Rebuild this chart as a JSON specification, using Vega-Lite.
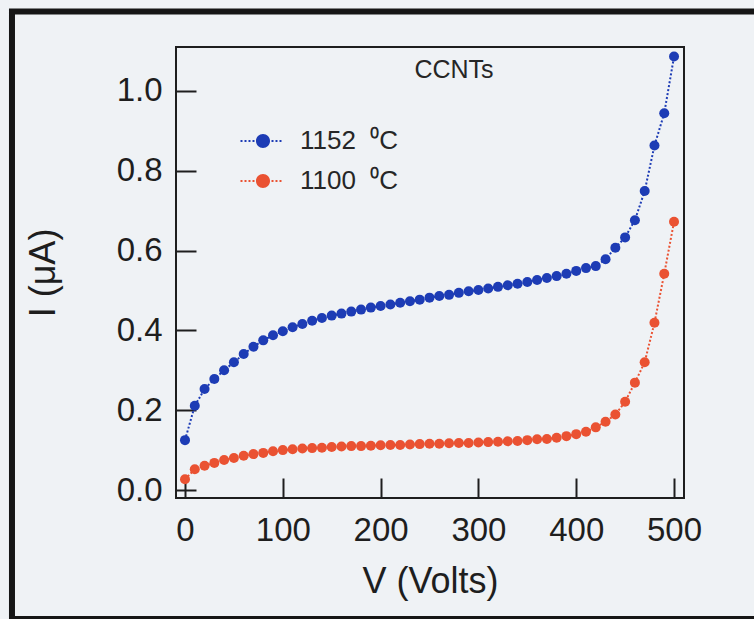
{
  "$schema": "https://vega.github.io/schema/vega-lite/v6.json",
  "width": 508,
  "height": 451,
  "autosize": {"type": "none"},
  "padding": {"left": 176, "top": 47, "right": 70, "bottom": 121},
  "background": "#eff2f5",
  "datasets": {
    "iv": [
      {"V": 0, "I": 0.125, "T": "1152\u00a0\u00a0⁰C"}, {"V": 10, "I": 0.211, "T": "1152\u00a0\u00a0⁰C"}, {"V": 20, "I": 0.253, "T": "1152\u00a0\u00a0⁰C"},
      {"V": 30, "I": 0.278, "T": "1152\u00a0\u00a0⁰C"}, {"V": 40, "I": 0.300, "T": "1152\u00a0\u00a0⁰C"}, {"V": 50, "I": 0.320, "T": "1152\u00a0\u00a0⁰C"},
      {"V": 60, "I": 0.341, "T": "1152\u00a0\u00a0⁰C"}, {"V": 70, "I": 0.359, "T": "1152\u00a0\u00a0⁰C"}, {"V": 80, "I": 0.375, "T": "1152\u00a0\u00a0⁰C"},
      {"V": 90, "I": 0.388, "T": "1152\u00a0\u00a0⁰C"}, {"V": 100, "I": 0.398, "T": "1152\u00a0\u00a0⁰C"}, {"V": 110, "I": 0.408, "T": "1152\u00a0\u00a0⁰C"},
      {"V": 120, "I": 0.416, "T": "1152\u00a0\u00a0⁰C"}, {"V": 130, "I": 0.424, "T": "1152\u00a0\u00a0⁰C"}, {"V": 140, "I": 0.431, "T": "1152\u00a0\u00a0⁰C"},
      {"V": 150, "I": 0.437, "T": "1152\u00a0\u00a0⁰C"}, {"V": 160, "I": 0.442, "T": "1152\u00a0\u00a0⁰C"}, {"V": 170, "I": 0.447, "T": "1152\u00a0\u00a0⁰C"},
      {"V": 180, "I": 0.452, "T": "1152\u00a0\u00a0⁰C"}, {"V": 190, "I": 0.457, "T": "1152\u00a0\u00a0⁰C"}, {"V": 200, "I": 0.461, "T": "1152\u00a0\u00a0⁰C"},
      {"V": 210, "I": 0.465, "T": "1152\u00a0\u00a0⁰C"}, {"V": 220, "I": 0.469, "T": "1152\u00a0\u00a0⁰C"}, {"V": 230, "I": 0.473, "T": "1152\u00a0\u00a0⁰C"},
      {"V": 240, "I": 0.477, "T": "1152\u00a0\u00a0⁰C"}, {"V": 250, "I": 0.482, "T": "1152\u00a0\u00a0⁰C"}, {"V": 260, "I": 0.486, "T": "1152\u00a0\u00a0⁰C"},
      {"V": 270, "I": 0.489, "T": "1152\u00a0\u00a0⁰C"}, {"V": 280, "I": 0.494, "T": "1152\u00a0\u00a0⁰C"}, {"V": 290, "I": 0.498, "T": "1152\u00a0\u00a0⁰C"},
      {"V": 300, "I": 0.501, "T": "1152\u00a0\u00a0⁰C"}, {"V": 310, "I": 0.505, "T": "1152\u00a0\u00a0⁰C"}, {"V": 320, "I": 0.509, "T": "1152\u00a0\u00a0⁰C"},
      {"V": 330, "I": 0.513, "T": "1152\u00a0\u00a0⁰C"}, {"V": 340, "I": 0.517, "T": "1152\u00a0\u00a0⁰C"}, {"V": 350, "I": 0.521, "T": "1152\u00a0\u00a0⁰C"},
      {"V": 360, "I": 0.526, "T": "1152\u00a0\u00a0⁰C"}, {"V": 370, "I": 0.531, "T": "1152\u00a0\u00a0⁰C"}, {"V": 380, "I": 0.536, "T": "1152\u00a0\u00a0⁰C"},
      {"V": 390, "I": 0.542, "T": "1152\u00a0\u00a0⁰C"}, {"V": 400, "I": 0.549, "T": "1152\u00a0\u00a0⁰C"}, {"V": 410, "I": 0.556, "T": "1152\u00a0\u00a0⁰C"},
      {"V": 420, "I": 0.561, "T": "1152\u00a0\u00a0⁰C"}, {"V": 430, "I": 0.578, "T": "1152\u00a0\u00a0⁰C"}, {"V": 440, "I": 0.607, "T": "1152\u00a0\u00a0⁰C"},
      {"V": 450, "I": 0.633, "T": "1152\u00a0\u00a0⁰C"}, {"V": 460, "I": 0.676, "T": "1152\u00a0\u00a0⁰C"}, {"V": 470, "I": 0.749, "T": "1152\u00a0\u00a0⁰C"},
      {"V": 480, "I": 0.863, "T": "1152\u00a0\u00a0⁰C"}, {"V": 490, "I": 0.944, "T": "1152\u00a0\u00a0⁰C"}, {"V": 500, "I": 1.086, "T": "1152\u00a0\u00a0⁰C"},
      {"V": 0, "I": 0.027, "T": "1100\u00a0\u00a0⁰C"}, {"V": 10, "I": 0.052, "T": "1100\u00a0\u00a0⁰C"}, {"V": 20, "I": 0.061, "T": "1100\u00a0\u00a0⁰C"},
      {"V": 30, "I": 0.068, "T": "1100\u00a0\u00a0⁰C"}, {"V": 40, "I": 0.075, "T": "1100\u00a0\u00a0⁰C"}, {"V": 50, "I": 0.080, "T": "1100\u00a0\u00a0⁰C"},
      {"V": 60, "I": 0.086, "T": "1100\u00a0\u00a0⁰C"}, {"V": 70, "I": 0.090, "T": "1100\u00a0\u00a0⁰C"}, {"V": 80, "I": 0.093, "T": "1100\u00a0\u00a0⁰C"},
      {"V": 90, "I": 0.097, "T": "1100\u00a0\u00a0⁰C"}, {"V": 100, "I": 0.100, "T": "1100\u00a0\u00a0⁰C"}, {"V": 110, "I": 0.102, "T": "1100\u00a0\u00a0⁰C"},
      {"V": 120, "I": 0.104, "T": "1100\u00a0\u00a0⁰C"}, {"V": 130, "I": 0.105, "T": "1100\u00a0\u00a0⁰C"}, {"V": 140, "I": 0.106, "T": "1100\u00a0\u00a0⁰C"},
      {"V": 150, "I": 0.108, "T": "1100\u00a0\u00a0⁰C"}, {"V": 160, "I": 0.109, "T": "1100\u00a0\u00a0⁰C"}, {"V": 170, "I": 0.110, "T": "1100\u00a0\u00a0⁰C"},
      {"V": 180, "I": 0.110, "T": "1100\u00a0\u00a0⁰C"}, {"V": 190, "I": 0.111, "T": "1100\u00a0\u00a0⁰C"}, {"V": 200, "I": 0.112, "T": "1100\u00a0\u00a0⁰C"},
      {"V": 210, "I": 0.113, "T": "1100\u00a0\u00a0⁰C"}, {"V": 220, "I": 0.113, "T": "1100\u00a0\u00a0⁰C"}, {"V": 230, "I": 0.114, "T": "1100\u00a0\u00a0⁰C"},
      {"V": 240, "I": 0.115, "T": "1100\u00a0\u00a0⁰C"}, {"V": 250, "I": 0.116, "T": "1100\u00a0\u00a0⁰C"}, {"V": 260, "I": 0.116, "T": "1100\u00a0\u00a0⁰C"},
      {"V": 270, "I": 0.117, "T": "1100\u00a0\u00a0⁰C"}, {"V": 280, "I": 0.118, "T": "1100\u00a0\u00a0⁰C"}, {"V": 290, "I": 0.118, "T": "1100\u00a0\u00a0⁰C"},
      {"V": 300, "I": 0.119, "T": "1100\u00a0\u00a0⁰C"}, {"V": 310, "I": 0.120, "T": "1100\u00a0\u00a0⁰C"}, {"V": 320, "I": 0.121, "T": "1100\u00a0\u00a0⁰C"},
      {"V": 330, "I": 0.122, "T": "1100\u00a0\u00a0⁰C"}, {"V": 340, "I": 0.123, "T": "1100\u00a0\u00a0⁰C"}, {"V": 350, "I": 0.125, "T": "1100\u00a0\u00a0⁰C"},
      {"V": 360, "I": 0.127, "T": "1100\u00a0\u00a0⁰C"}, {"V": 370, "I": 0.128, "T": "1100\u00a0\u00a0⁰C"}, {"V": 380, "I": 0.131, "T": "1100\u00a0\u00a0⁰C"},
      {"V": 390, "I": 0.135, "T": "1100\u00a0\u00a0⁰C"}, {"V": 400, "I": 0.140, "T": "1100\u00a0\u00a0⁰C"}, {"V": 410, "I": 0.146, "T": "1100\u00a0\u00a0⁰C"},
      {"V": 420, "I": 0.157, "T": "1100\u00a0\u00a0⁰C"}, {"V": 430, "I": 0.171, "T": "1100\u00a0\u00a0⁰C"}, {"V": 440, "I": 0.189, "T": "1100\u00a0\u00a0⁰C"},
      {"V": 450, "I": 0.221, "T": "1100\u00a0\u00a0⁰C"}, {"V": 460, "I": 0.269, "T": "1100\u00a0\u00a0⁰C"}, {"V": 470, "I": 0.320, "T": "1100\u00a0\u00a0⁰C"},
      {"V": 480, "I": 0.419, "T": "1100\u00a0\u00a0⁰C"}, {"V": 490, "I": 0.542, "T": "1100\u00a0\u00a0⁰C"}, {"V": 500, "I": 0.672, "T": "1100\u00a0\u00a0⁰C"}
    ]
  },
  "layer": [
    {
      "description": "outer frame around the figure",
      "data": {"values": [{}]},
      "mark": {"type": "rect", "filled": false, "stroke": "#161616", "strokeWidth": 6},
      "encoding": {
        "x": {"datum": -176.9, "type": "quantitative"},
        "x2": {"datum": 618.6},
        "y": {"datum": 1.199, "type": "quantitative"},
        "y2": {"datum": -0.323}
      }
    },
    {
      "description": "sample label",
      "data": {"values": [{}]},
      "mark": {"type": "text", "text": "CCNTs", "fontSize": 25, "font": "Liberation Sans", "color": "#262626", "baseline": "alphabetic", "align": "center"},
      "encoding": {
        "x": {"datum": 275, "type": "quantitative"},
        "y": {"datum": 1.032, "type": "quantitative"}
      }
    },
    {
      "data": {"name": "iv"},
      "mark": {"type": "line", "strokeDash": [2, 2], "strokeWidth": 2},
      "encoding": {
        "x": {"field": "V", "type": "quantitative"},
        "y": {"field": "I", "type": "quantitative"},
        "color": {"field": "T", "type": "nominal"},
        "detail": {"field": "T"}
      }
    },
    {
      "data": {"name": "iv"},
      "mark": {"type": "point", "shape": "circle", "filled": true, "size": 100, "opacity": 1},
      "encoding": {
        "x": {"field": "V", "type": "quantitative"},
        "y": {"field": "I", "type": "quantitative"},
        "color": {"field": "T", "type": "nominal"}
      }
    }
  ],
  "resolve": {"scale": {"x": "shared", "y": "shared"}},
  "encoding": {
    "x": {
      "type": "quantitative",
      "scale": {"domain": [-9.2, 510.2], "nice": false, "zero": false},
      "axis": {
        "title": "V (Volts)",
        "values": [0, 100, 200, 300, 400, 500],
        "format": "d",
        "labelPadding": 36,
        "titlePadding": 17
      }
    },
    "y": {
      "type": "quantitative",
      "scale": {"domain": [-0.02, 1.11], "nice": false, "zero": false},
      "axis": {
        "title": "I (μA)",
        "values": [0, 0.2, 0.4, 0.6, 0.8, 1.0],
        "format": ".1f",
        "labelPadding": 34,
        "titlePadding": 54
      }
    },
    "color": {
      "type": "nominal",
      "scale": {"domain": ["1152\u00a0\u00a0⁰C", "1100\u00a0\u00a0⁰C"], "range": ["#1d3cb5", "#ea5232"]},
      "legend": {
        "orient": "none",
        "legendX": 72,
        "legendY": 79,
        "title": null,
        "padding": 0,
        "symbolType": "M-1.5,-0.067h0.133v0.134h-0.133ZM-1.233,-0.067h0.133v0.134h-0.133ZM-0.967,-0.067h0.133v0.134h-0.133ZM-0.7,-0.067h0.133v0.134h-0.133ZM0.567,-0.067h0.133v0.134h-0.133ZM0.833,-0.067h0.133v0.134h-0.133ZM1.1,-0.067h0.133v0.134h-0.133ZM-0.467,0A0.467,0.467 0 1,0 0.467,0A0.467,0.467 0 1,0 -0.467,0Z",
        "symbolSize": 900,
        "symbolStrokeWidth": 0,
        "symbolOpacity": 1,
        "rowPadding": 12,
        "labelOffset": 22,
        "labelFontSize": 26,
        "labelFont": "Liberation Sans",
        "labelColor": "#262626",
        "encode": {
          "symbols": {"update": {"fill": {"scale": "color", "field": "value"}, "strokeWidth": {"value": 0}, "opacity": {"value": 1}}}
        }
      }
    }
  },
  "config": {
    "font": "Liberation Sans",
    "view": {"stroke": "#1e1e1e", "strokeWidth": 2},
    "axis": {
      "domain": false,
      "grid": false,
      "ticks": true,
      "tickSize": -20,
      "tickWidth": 2,
      "tickColor": "#1e1e1e",
      "labelFont": "Liberation Sans",
      "labelFontSize": 33,
      "labelColor": "#1e1e1e",
      "labelFlush": false,
      "labelOverlap": false,
      "labelBound": false,
      "titleFont": "Liberation Sans",
      "titleFontSize": 36,
      "titleFontWeight": "normal",
      "titleColor": "#1e1e1e"
    }
  }
}
